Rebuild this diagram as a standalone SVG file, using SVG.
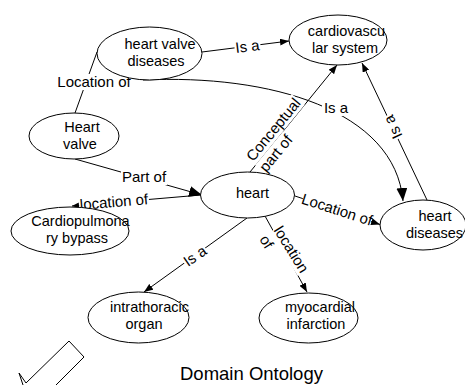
<svg xmlns="http://www.w3.org/2000/svg" width="465" height="385" viewBox="0 0 465 385">
  <style>
    text { font-family: "Liberation Sans", Arial, Helvetica, sans-serif; font-size: 15px; fill: #000; }
    .node ellipse { fill: #fff; stroke: #000; stroke-width: 1; }
    .node text { text-anchor: middle; font-size: 14.5px; }
    .edge { fill: none; stroke: #000; stroke-width: 1; }
    .lbl rect { fill: #fff; stroke: none; }
    .lbl text { text-anchor: middle; }
    .lbl text.start { text-anchor: start; }
    .title { font-size: 18.5px; }
    .pen { fill: none; stroke: #000; stroke-width: 1; }
  </style>
  <defs>
    <marker id="arrowLg" markerUnits="userSpaceOnUse" markerWidth="13" markerHeight="11" viewBox="0 0 13 11" refX="13" refY="5.5" orient="auto">
      <path d="M0,0 L13,5.5 L0,11 z" fill="#000"/>
    </marker>
    <marker id="arrowSm" markerUnits="userSpaceOnUse" markerWidth="9" markerHeight="7" viewBox="0 0 9 7" refX="9" refY="3.5" orient="auto">
      <path d="M0,0 L9,3.5 L0,7 z" fill="#000"/>
    </marker>
    <marker id="arrowXs" markerUnits="userSpaceOnUse" markerWidth="7" markerHeight="6" viewBox="0 0 7 6" refX="7" refY="3" orient="auto">
      <path d="M0,0 L7,3 L0,6 z" fill="#000"/>
    </marker>
  </defs>

  <!-- connectors -->
  <g id="connectors">
    <path class="edge" d="M202,52 L289,41" marker-end="url(#arrowSm)"/>
    <path class="edge" d="M143,80 C270,74 395,110 403,201" marker-end="url(#arrowLg)"/>
    <path class="edge" d="M427,200 L362,63" marker-end="url(#arrowSm)"/>
    <path class="edge" d="M97,52 L75,113"/>
    <path class="edge" d="M75,159 L202,195" marker-end="url(#arrowLg)"/>
    <path class="edge" d="M201,195 L72,206" marker-end="url(#arrowXs)"/>
    <path class="edge" d="M250,172 L337,65" marker-end="url(#arrowSm)"/>
    <path class="edge" d="M295,196 L380,224.5" marker-end="url(#arrowSm)"/>
    <path class="edge" d="M247,218 L144,292" marker-end="url(#arrowSm)"/>
    <path class="edge" d="M265,216 L307,292" marker-end="url(#arrowSm)"/>

    <!-- link labels -->
    <g class="lbl" transform="translate(247.5,46.5) rotate(-7)">
      <rect x="-13" y="-8" width="26" height="15"/>
      <text x="0" y="5">Is a</text>
    </g>
    <g class="lbl" transform="translate(336,108)">
      <rect x="-14" y="-8" width="28" height="16"/>
      <text x="0" y="5">Is a</text>
    </g>
    <g class="lbl" transform="translate(393,127) rotate(-115.2)">
      <rect x="-13" y="-8" width="26" height="16"/>
      <text x="0" y="5">Is a</text>
    </g>
    <g class="lbl" transform="translate(94,82)">
      <rect x="-38" y="-8" width="76" height="16"/>
      <text x="0" y="5">Location of</text>
    </g>
    <g class="lbl" transform="translate(144,177)">
      <rect x="-23" y="-8" width="46" height="16"/>
      <text x="0" y="5">Part of</text>
    </g>
    <g class="lbl" transform="translate(114,202) rotate(-4.9)">
      <rect x="-35" y="-8" width="70" height="15"/>
      <text x="0" y="5">location of</text>
    </g>
    <g class="lbl" transform="translate(280,135) rotate(-50.6)">
      <rect x="-39" y="-17" width="78" height="17"/>
      <rect x="-39" y="0" width="44" height="16"/>
      <text class="start" x="-38" y="-3.5">Conceptual</text>
      <text class="start" x="-38" y="13.5">part of</text>
    </g>
    <g class="lbl" transform="translate(337,209.8) rotate(18)">
      <rect x="-36" y="-8" width="72" height="16"/>
      <text x="0" y="5">Location of</text>
    </g>
    <g class="lbl" transform="translate(195,256) rotate(-34.8)">
      <rect x="-13" y="-8" width="26" height="16"/>
      <text x="0" y="5">Is a</text>
    </g>
    <g class="lbl" transform="translate(284,254) rotate(58)">
      <rect x="-26" y="-17" width="52" height="17"/>
      <rect x="-26" y="0" width="14" height="16"/>
      <text class="start" x="-25.8" y="-3.5">location</text>
      <text class="start" x="-25.8" y="13.5">of</text>
    </g>
  </g>

  <!-- concepts -->
  <g id="heart-valve-diseases" class="node">
    <ellipse cx="149.5" cy="53.5" rx="52.5" ry="26.5"/>
    <text x="160" y="49.3">heart valve</text>
    <text x="156" y="65.8">diseases</text>
  </g>
  <g id="cardiovascular-system" class="node">
    <ellipse cx="338" cy="40" rx="49" ry="25"/>
    <text x="346.5" y="36.3">cardiovascu</text>
    <text x="345" y="52.8">lar system</text>
  </g>
  <g id="heart-valve" class="node">
    <ellipse cx="74" cy="136" rx="45" ry="23"/>
    <text x="82" y="132.3">Heart</text>
    <text x="80" y="148.8">valve</text>
  </g>
  <g id="heart" class="node">
    <ellipse cx="247.5" cy="195" rx="47" ry="23"/>
    <text x="252.5" y="198">heart</text>
  </g>
  <g id="cardiopulmonary-bypass" class="node">
    <ellipse cx="70" cy="231" rx="59" ry="24"/>
    <text x="80.5" y="226.3">Cardiopulmona</text>
    <text x="77" y="242.8">ry bypass</text>
  </g>
  <g id="heart-diseases" class="node">
    <ellipse cx="423" cy="225" rx="43" ry="25"/>
    <text x="435" y="221.3">heart</text>
    <text x="434.5" y="237.8">diseases</text>
  </g>
  <g id="intrathoracic-organ" class="node">
    <ellipse cx="138.5" cy="317.5" rx="50.5" ry="25.5"/>
    <text x="149.5" y="312.3">intrathoracic</text>
    <text x="144" y="328.8">organ</text>
  </g>
  <g id="myocardial-infarction" class="node">
    <ellipse cx="308.5" cy="318" rx="49.5" ry="25"/>
    <text x="320" y="312.3">myocardial</text>
    <text x="316" y="328.8">infarction</text>
  </g>

  <!-- pencil outline, bottom left -->
  <path class="pen" d="M23,385 L19,373 L26,383 L69,341 L84,357 L56,385"/>

  <text class="title" x="180" y="380">Domain Ontology</text>
</svg>
